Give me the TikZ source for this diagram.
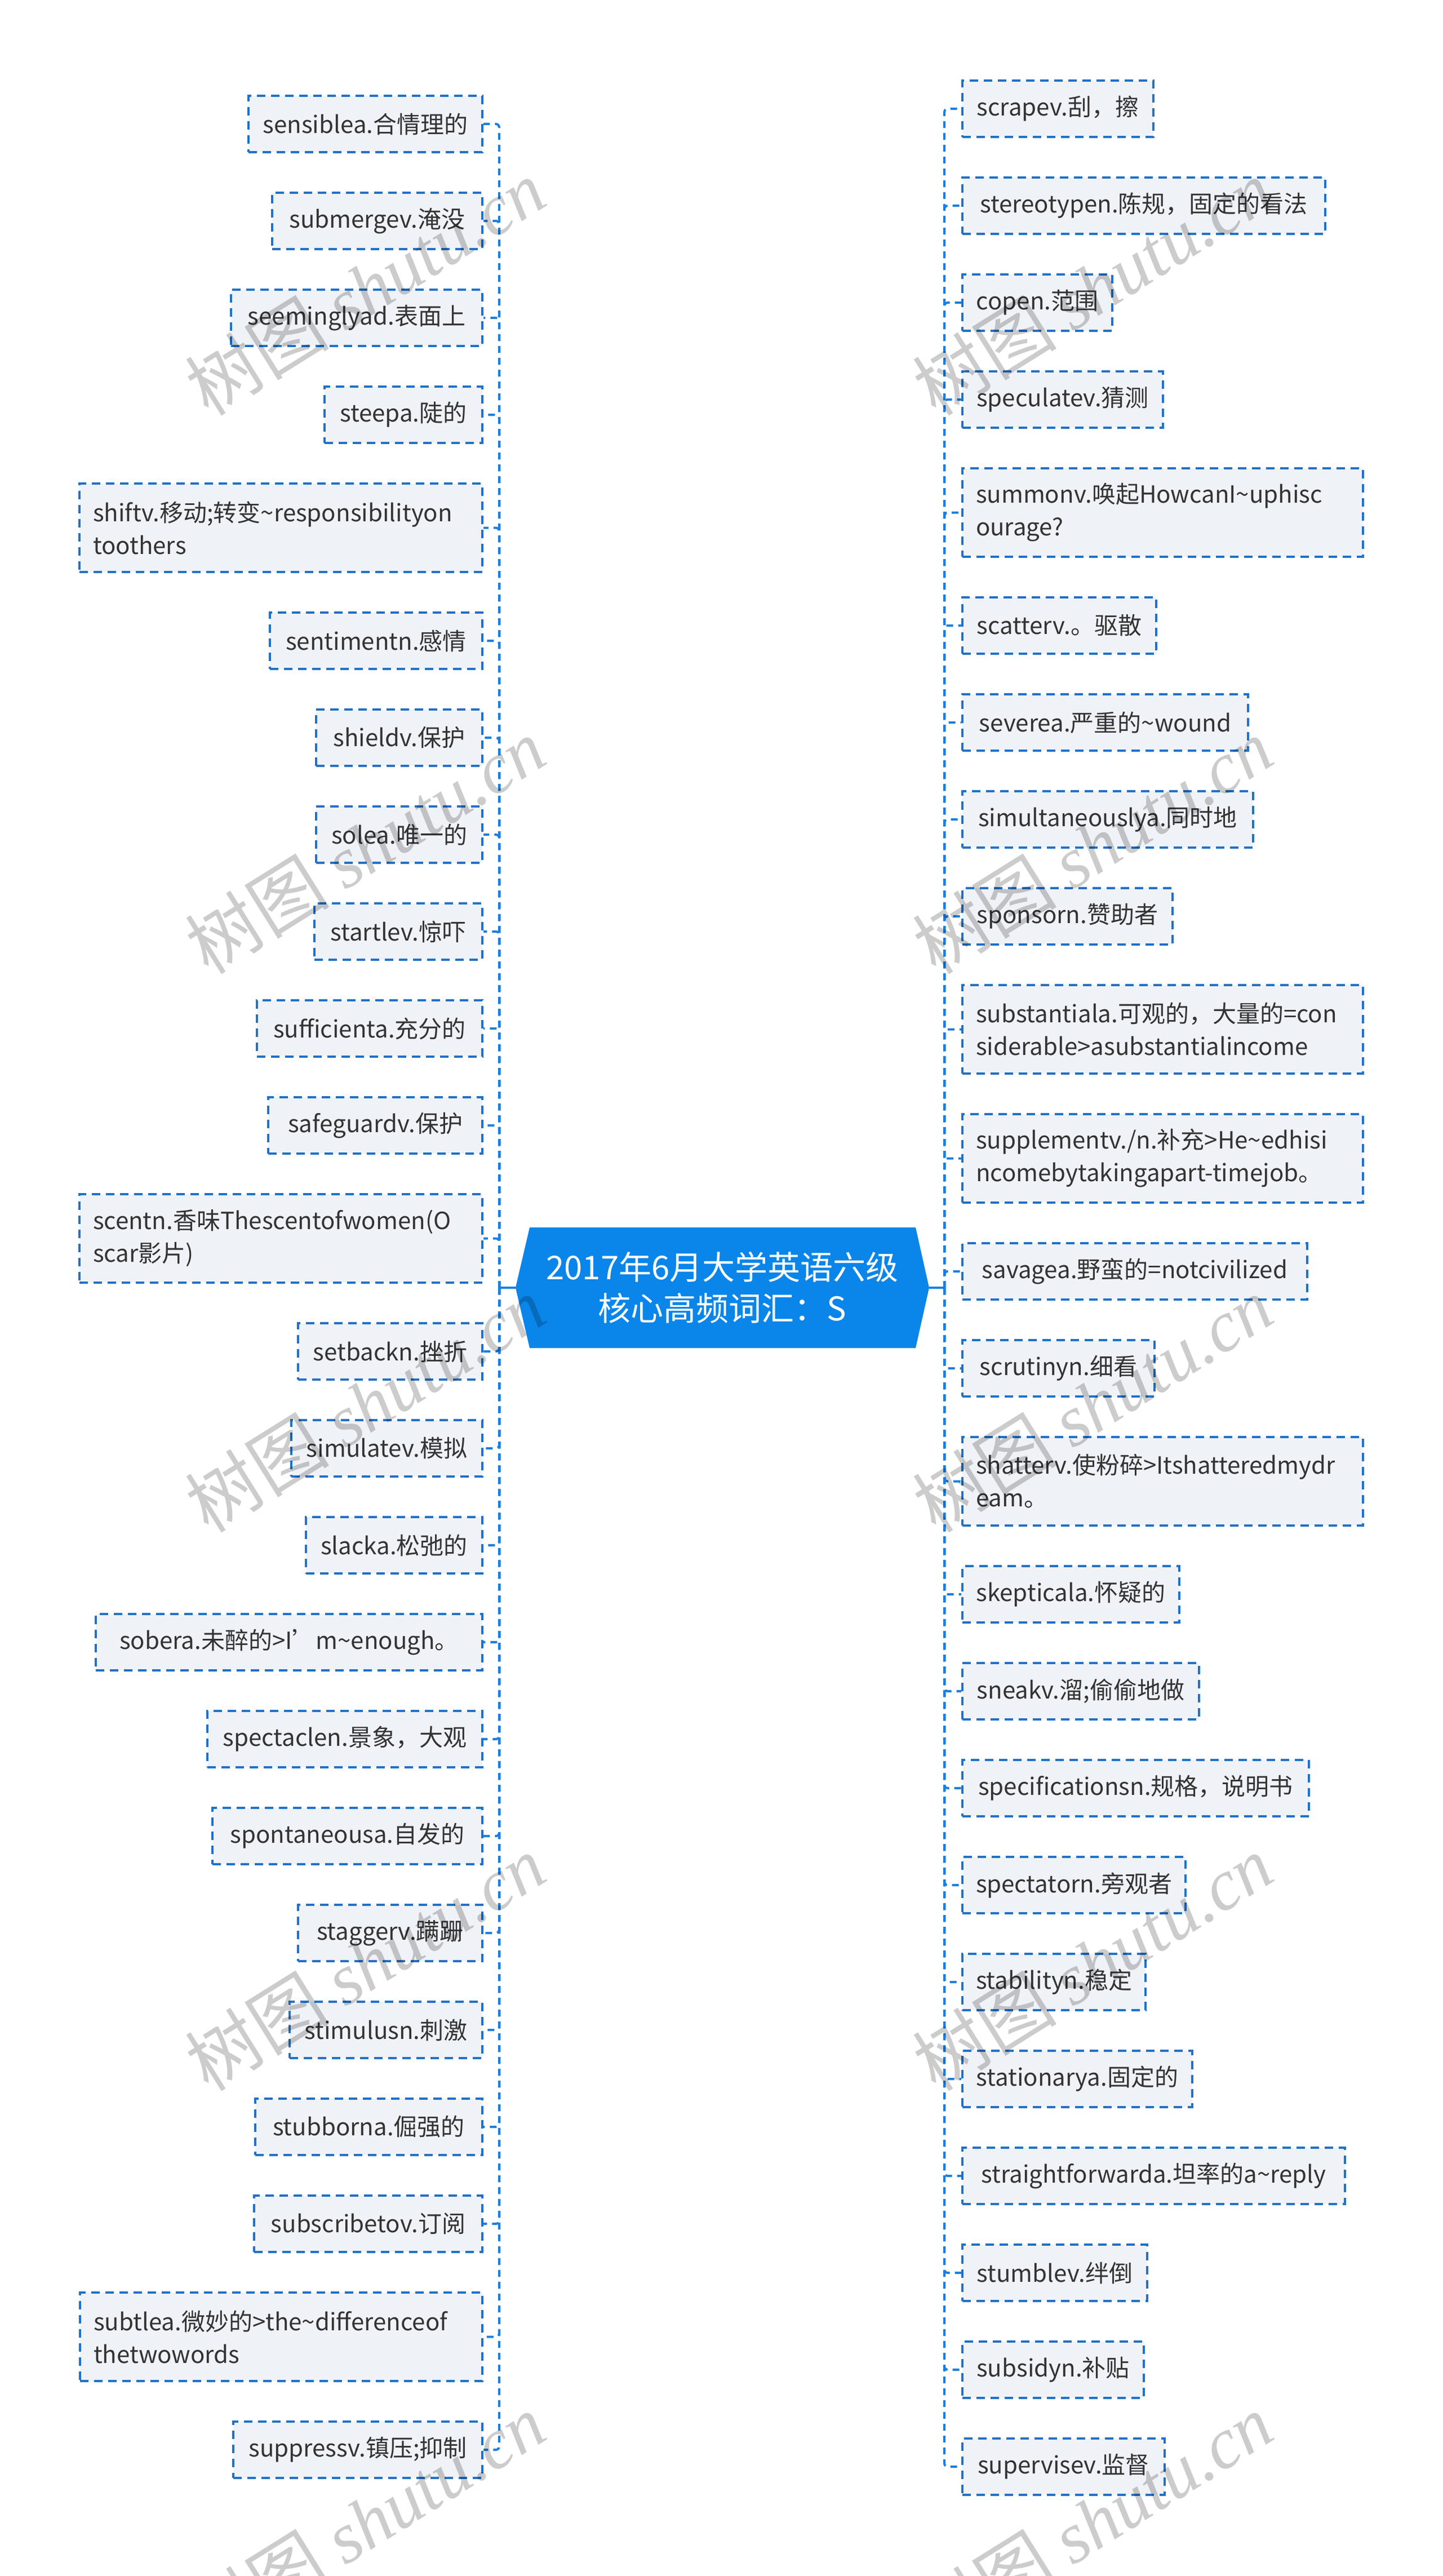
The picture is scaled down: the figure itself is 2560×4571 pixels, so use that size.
\documentclass[tikz,border=0pt]{standalone}
\usepackage{fontspec}
\setmainfont{Noto Sans CJK SC}
\newfontfamily\wmser{Liberation Serif}
\definecolor{boxfill}{HTML}{EFF2F6}
\definecolor{boxline}{HTML}{2171C7}
\definecolor{linec}{HTML}{1A7FE0}
\definecolor{cfill}{HTML}{0A85EA}
\definecolor{txt}{HTML}{333333}
\newcommand\tl{\char"7E\relax}
\begin{document}
\begin{tikzpicture}[x=0.25pt,y=-0.25pt,
  box/.style={draw=boxline, fill=boxfill, line width=1pt, dash pattern=on 3.75pt off 2.5pt,
    inner xsep=6pt, inner ysep=0pt, minimum height=25pt, text=txt,
    font=\fontsize{10.5pt}{14.5pt}\selectfont},
  lbox/.style={box, anchor=east},
  rbox/.style={box, anchor=west},
  dbl/.style={minimum height=39.25pt, align=left},
  conn/.style={draw=linec, line width=1pt, dash pattern=on 3pt off 2.25pt, rounded corners=1.5pt},
  trunk/.style={draw=linec, line width=1pt},
  wm/.style={rotate=32, text=black, opacity=0.2, font=\fontsize{32pt}{32pt}\selectfont}
]
\useasboundingbox (0,0) rectangle (2560,4571);
\newcommand\LB[4]{\node[lbox,minimum width=#3*0.25pt] (#1) at (858,#2) {#4};\draw[conn] (spL) |- (#1.east);}
\newcommand\LD[4]{\node[lbox,dbl,text width=#3] (#1) at (858,#2) {#4};\draw[conn] (spL) |- (#1.east);}
\newcommand\RB[4]{\node[rbox,minimum width=#3*0.25pt] (#1) at (1706,#2) {#4};\draw[conn] (spR) |- (#1.west);}
\newcommand\RD[4]{\node[rbox,dbl,text width=#3] (#1) at (1706,#2) {#4};\draw[conn] (spR) |- (#1.west);}

% central topic
\fill[cfill] (915,2285) -- (940,2178) -- (1625,2178) -- (1649,2285) -- (1625,2392) -- (940,2392) -- cycle;
\node[text=white, align=center, font=\fontsize{14.5pt}{18.25pt}\selectfont] (center) at (1282,2285)
  {2017年6月大学英语六级\\核心高频词汇：S};
\coordinate (cl) at (915,2285);
\coordinate (cr) at (1649,2285);
\coordinate (spL) at (886,2285);
\coordinate (spR) at (1676,2285);
\draw[trunk] (cl) -- (spL);
\draw[trunk] (cr) -- (spR);

% left branches
\LB{l1}{220}{415}{sensiblea.合情理的}
\LB{l2}{392}{373}{submergev.淹没}
\LB{l3}{564}{446}{seeminglyad.表面上}
\LB{l4}{736}{280}{steepa.陡的}
\LD{l5}{936.5}{166.75pt}{shiftv.移动;转变\tl responsibilityon\\toothers}
\LB{l6}{1137}{377}{sentimentn.感情}
\LB{l7}{1309}{295}{shieldv.保护}
\LB{l8}{1481}{295}{solea.唯一的}
\LB{l9}{1653}{298}{startlev.惊吓}
\LB{l10}{1825}{400}{sufficienta.充分的}
\LB{l11}{1997}{380}{safeguardv.保护}
\LD{l12}{2197.5}{166.75pt}{scentn.香味Thescentofwomen(O\\scar影片)}
\LB{l13}{2398}{327}{setbackn.挫折}
\LB{l14}{2570}{339}{simulatev.模拟}
\LB{l15}{2742}{313}{slacka.松弛的}
\LB{l16}{2914}{686}{sobera.未醉的>I’m\tl enough。}
\LB{l17}{3086}{488}{spectaclen.景象，大观}
\LB{l18}{3258}{479}{spontaneousa.自发的}
\LB{l19}{3430}{327}{staggerv.蹒跚}
\LB{l20}{3602}{342}{stimulusn.刺激}
\LB{l21}{3774}{403}{stubborna.倔强的}
\LB{l22}{3946}{405}{subscribetov.订阅}
\LD{l23}{4146.5}{166.5pt}{subtlea.微妙的>the\tl differenceof\\thetwowords}
\LB{l24}{4347}{442}{suppressv.镇压;抑制}

% right branches
\RB{r1}{193}{339}{scrapev.刮，擦}
\RB{r2}{365}{644}{stereotypen.陈规，固定的看法}
\RB{r3}{537}{266}{copen.范围}
\RB{r4}{709}{356}{speculatev.猜测}
\RD{r5}{909.5}{165.75pt}{summonv.唤起HowcanI\tl uphisc\\ourage?}
\RB{r6}{1110}{344}{scatterv.。驱散}
\RB{r7}{1282}{507}{severea.严重的\tl wound}
\RB{r8}{1454}{516}{simultaneouslya.同时地}
\RB{r9}{1626}{373}{sponsorn.赞助者}
\RD{r10}{1826.5}{165.75pt}{substantiala.可观的，大量的=con\\siderable>asubstantialincome}
\RD{r11}{2055.5}{165.75pt}{supplementv./n.补充>He\tl edhisi\\ncomebytakingapart-timejob。}
\RB{r12}{2256}{612}{savagea.野蛮的=notcivilized}
\RB{r13}{2428}{341}{scrutinyn.细看}
\RD{r14}{2628.5}{165.75pt}{shatterv.使粉碎>Itshatteredmydr\\eam。}
\RB{r15}{2829}{385}{skepticala.怀疑的}
\RB{r16}{3001}{420}{sneakv.溜;偷偷地做}
\RB{r17}{3173}{615}{specificationsn.规格，说明书}
\RB{r18}{3345}{396}{spectatorn.旁观者}
\RB{r19}{3517}{324}{stabilityn.稳定}
\RB{r20}{3689}{408}{stationarya.固定的}
\RB{r21}{3861}{679}{straightforwarda.坦率的a\tl reply}
\RB{r22}{4033}{328}{stumblev.绊倒}
\RB{r23}{4205}{322}{subsidyn.补贴}
\RB{r24}{4377}{359}{supervisev.监督}

% watermark
\foreach \wy [count=\i] in {510,1501,2492,3483,4474}{
  \node[wm] (wmL\i) at (648,\wy) {树图 {\wmser\itshape shutu.cn}};
  \node[wm] (wmR\i) at (1939,\wy) {树图 {\wmser\itshape shutu.cn}};
}
\end{tikzpicture}
\end{document}
